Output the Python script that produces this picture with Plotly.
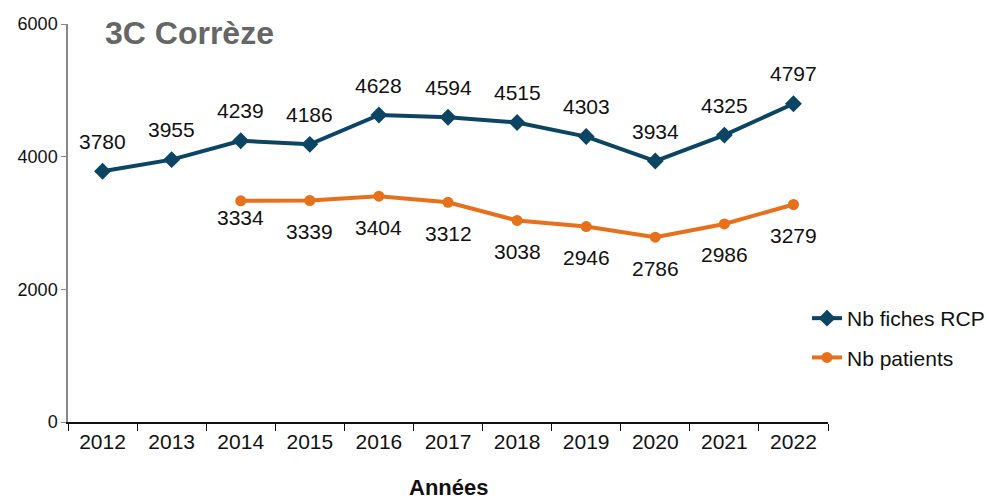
import plotly.graph_objects as go

years = ["2012", "2013", "2014", "2015", "2016", "2017", "2018", "2019", "2020", "2021", "2022"]
fiches_rcp = [3780, 3955, 4239, 4186, 4628, 4594, 4515, 4303, 3934, 4325, 4797]
patients_years = ["2014", "2015", "2016", "2017", "2018", "2019", "2020", "2021", "2022"]
patients = [3334, 3339, 3404, 3312, 3038, 2946, 2786, 2986, 3279]

BLUE = "#0B4563"
ORANGE = "#E8701A"
FONT = "Liberation Sans, Arial, sans-serif"
LABEL_FONT = dict(size=21, color="#111111", family=FONT)

# plot-area geometry in pixels
L, R, T, B = 68, 161, 24, 77
W, H = 989, 499
PW, PH = W - L - R, H - T - B

fig = go.Figure()
fig.add_trace(go.Scatter(
    x=years, y=fiches_rcp, name="Nb fiches RCP", legendgroup="a",
    mode="lines+markers",
    line=dict(color=BLUE, width=4),
    marker=dict(symbol="diamond", size=13, color=BLUE),
))
fig.add_trace(go.Scatter(
    x=patients_years, y=patients, name="Nb patients", legendgroup="b",
    mode="lines+markers",
    line=dict(color=ORANGE, width=4),
    marker=dict(symbol="circle", size=11, color=ORANGE),
))

annotations = []
for x, v in zip(years, fiches_rcp):
    annotations.append(dict(x=years.index(x), y=v, xref="x", yref="y", text=str(v),
                            showarrow=False, yshift=30, font=LABEL_FONT))
for x, v in zip(patients_years, patients):
    shift = -17 if x == "2014" else -31
    annotations.append(dict(x=years.index(x), y=v, xref="x", yref="y", text=str(v),
                            showarrow=False, yshift=shift, font=LABEL_FONT))

annotations.append(dict(text="<b>3C Corrèze</b>", x=(103 - L) / PW, y=(H - B - 33) / PH,
                        xref="paper", yref="paper", showarrow=False,
                        font=dict(size=32, color="#666666", family=FONT),
                        xanchor="left", yanchor="middle"))
annotations.append(dict(text="<b>Années</b>", x=0.5, y=-(487 - (H - B)) / PH,
                        xref="paper", yref="paper", showarrow=False,
                        font=dict(size=22, color="#111111", family=FONT),
                        xanchor="center", yanchor="middle"))

fig.update_layout(
    width=W, height=H,
    margin=dict(l=L, r=R, t=T, b=B, autoexpand=False),
    paper_bgcolor="white", plot_bgcolor="white",
    font=dict(family=FONT, color="#111111"),
    showlegend=True,
    legend=dict(x=(807 - L) / PW, y=(H - B - 298) / PH, xanchor="left", yanchor="top",
                font=dict(size=21, family=FONT, color="#111111"),
                bgcolor="rgba(0,0,0,0)", tracegroupgap=9),
    annotations=annotations,
)

fig.update_xaxes(
    type="category", categoryorder="array", categoryarray=years,
    range=[-0.5, 10.5], showline=True, linecolor="#111111", linewidth=1.5,
    ticks="outside", tickson="boundaries", ticklen=7, tickcolor="#111111",
    tickfont=dict(size=21, family=FONT, color="#111111"), showgrid=False,
    automargin=False,
)
fig.update_yaxes(
    range=[0, 6000], tickvals=[0, 2000, 4000, 6000],
    showline=True, linecolor="#888888", linewidth=1.5,
    ticks="outside", ticklen=5, tickcolor="#888888",
    tickfont=dict(size=18, family=FONT, color="#111111"), showgrid=False, zeroline=False,
    automargin=False,
)

fig.write_html("out.html", config={"displayModeBar": False},
               post_script="document.body.style.margin='0';")
